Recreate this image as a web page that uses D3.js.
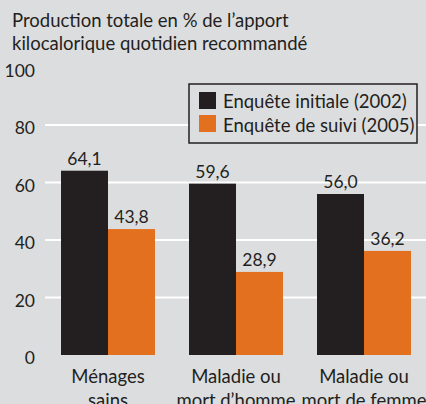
<!DOCTYPE html>
<html>
<head>
<meta charset="utf-8">
<script src="https://cdn.jsdelivr.net/npm/d3@7"></script>
<style>
  body { margin: 0; background: #dcdddf; }
  svg { display: block; }
  text { font-family: Lato, "Open Sans", sans-serif; fill: #231f20; }
</style>
</head>
<body>
<svg></svg>
<script>
// data
var categories = [["Ménages", "sains"], ["Maladie ou", "mort d\u2019homme"], ["Maladie ou", "mort de femme"]];
var seriesNames = ["Enquête initiale (2002)", "Enquête de suivi (2005)"];
var initial2002 = [64.1, 59.6, 56.0];
var suivi2005 = [43.8, 28.9, 36.2];
var yTicks = [0, 20, 40, 60, 80, 100];

var colors = ["#231f20", "#e3701f"];
var svgWidth = 426, svgHeight = 404;

var svg = d3.select("svg")
    .attr("width", svgWidth)
    .attr("height", svgHeight);

// subtitle
svg.append("text").attr("x", 12).attr("y", 27).style("font-size", "18.5px")
    .text("Production totale en % de l\u2019apport");
svg.append("text").attr("x", 12).attr("y", 50).style("font-size", "18.5px")
    .text("kilocalorique quotidien recommandé");

var yScale = d3.scaleLinear().domain([0, 100]).range([355, 67.5]);

var x0 = d3.scaleBand()
    .domain(d3.range(categories.length))
    .range([44, 428])
    .paddingInner(0.2656)
    .paddingOuter(0.1328);

var x1 = d3.scaleBand()
    .domain([0, 1])
    .range([0, x0.bandwidth()]);

// gridlines (no line at 0 and 100)
svg.selectAll("line.grid")
    .data(yTicks.filter(function(d) { return d > 0 && d < 100; }))
    .enter().append("line")
    .attr("class", "grid")
    .attr("x1", 45).attr("x2", svgWidth)
    .attr("y1", function(d) { return yScale(d); })
    .attr("y2", function(d) { return yScale(d); })
    .attr("stroke", "#ffffff")
    .attr("stroke-width", 2);

// y tick labels
svg.selectAll("text.ytick")
    .data(yTicks)
    .enter().append("text")
    .attr("class", "ytick")
    .attr("x", 35)
    .attr("y", function(d) { return yScale(d) + 3; })
    .attr("dy", "0.35em")
    .attr("text-anchor", "end")
    .style("font-size", "17.5px")
    .text(function(d) { return d; });

// bars
var series = [initial2002, suivi2005];
var rows = [];
categories.forEach(function(c, i) {
    series.forEach(function(s, j) {
        rows.push({ cat: i, ser: j, value: s[i] });
    });
});

svg.selectAll("rect.bar")
    .data(rows)
    .enter().append("rect")
    .attr("class", "bar")
    .attr("x", function(d) { return x0(d.cat) + x1(d.ser); })
    .attr("y", function(d) { return yScale(d.value); })
    .attr("width", x1.bandwidth())
    .attr("height", function(d) { return yScale(0) - yScale(d.value); })
    .attr("fill", function(d) { return colors[d.ser]; });

// value labels
svg.selectAll("text.val")
    .data(rows)
    .enter().append("text")
    .attr("class", "val")
    .attr("x", function(d) { return x0(d.cat) + x1(d.ser) + x1.bandwidth() / 2; })
    .attr("y", function(d) { return yScale(d.value) - 6; })
    .attr("text-anchor", "middle")
    .style("font-size", "17.5px")
    .text(function(d) { return d.value.toFixed(1).replace(".", ","); });

// category labels
var catG = svg.selectAll("g.cat")
    .data(categories)
    .enter().append("g")
    .attr("class", "cat")
    .attr("transform", function(d, i) {
        return "translate(" + (x0(i) + x0.bandwidth() / 2) + ",0)";
    });
catG.selectAll("text")
    .data(function(d) { return d; })
    .enter().append("text")
    .attr("y", function(d, i) { return 383 + i * 24; })
    .attr("text-anchor", "middle")
    .style("font-size", "18.5px")
    .text(function(d) { return d; });

// legend
var legend = svg.append("g").attr("transform", "translate(189,84)");
legend.append("rect")
    .attr("width", 228).attr("height", 59)
    .attr("fill", "#dcdddf")
    .attr("stroke", "#231f20")
    .attr("stroke-width", 1.5);
seriesNames.forEach(function(name, j) {
    legend.append("rect")
        .attr("x", 10).attr("y", 8 + j * 23)
        .attr("width", 17).attr("height", 17)
        .attr("fill", colors[j]);
    legend.append("text")
        .attr("x", 34).attr("y", 24 + j * 24)
        .style("font-size", "18.5px")
        .text(name);
});
</script>
</body>
</html>
